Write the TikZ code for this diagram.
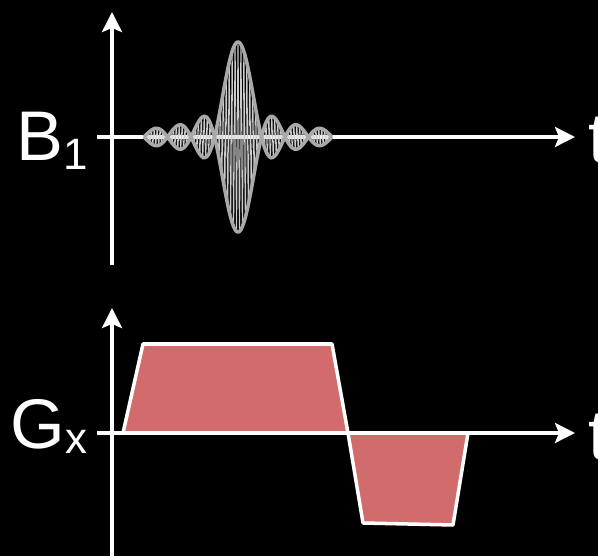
\documentclass[tikz,border=0pt]{standalone}
\usepackage{fontspec}
\setmainfont{Liberation Sans}
\usetikzlibrary{arrows.meta}

\definecolor{envgray}{RGB}{168,170,168}
\definecolor{carrgray}{RGB}{205,205,205}
\definecolor{lobered}{RGB}{210,107,107}

\begin{document}
\begin{tikzpicture}[
  >={Stealth[length=0.4cm, width=0.4cm, inset=0.08cm]},
  axis/.style={draw=white, line width=2pt},
  envelope/.style={draw=envgray, line width=2pt, line join=round},
  carrier/.style={draw=carrgray, line width=0.45pt},
  lobe/.style={fill=lobered, draw=white, line width=2pt, line join=round},
  sig/.style={font=\fontsize{40}{40}\selectfont, text=white, inner sep=0pt, anchor=base west},
  declare function={sincf(\u)=sin(180*\u)/(pi*\u);},
]

% Background and fixed frame
\fill[black] (0, 0) rectangle (11.96, 11.12);
\useasboundingbox (0, 0) rectangle (11.96, 11.12);

% === RF pulse (top) ===
\coordinate (b1top) at (2.24, 10.88);
\coordinate (b1bot) at (2.24, 5.82);
\coordinate (b1left) at (1.94, 8.38);
\coordinate (b1right) at (11.5, 8.38);

\draw[axis, ->] (b1bot) -- (b1top);
\draw[axis, ->] (b1left) -- (b1right);

% Carrier inside the sinc envelope
\draw[carrier] plot[domain=-4:4, samples=1200]
  ({4.76+0.47*\x}, {8.38+1.9*sincf(\x)*cos(360*8*\x)});

% Envelope, both signs
\draw[envelope] plot[domain=-4:4, samples=400, smooth]
  ({4.76+0.47*\x}, {8.38+1.9*sincf(\x)});
\draw[envelope] plot[domain=-4:4, samples=400, smooth]
  ({4.76+0.47*\x}, {8.38-1.9*sincf(\x)});

\node[sig] (b1lbl) at (0.32, 7.9) {B\raisebox{-0.12em}{\fontsize{25}{25}\selectfont 1}};
\node[sig] (b1t) at (11.76, 7.86) {t};

% === Gradient (bottom) ===
\coordinate (gxtop) at (2.24, 4.96);
\coordinate (gxbot) at (2.24, -0.1);
\coordinate (gxleft) at (1.94, 2.46);
\coordinate (gxright) at (11.5, 2.46);

% Positive lobe
\draw[lobe] (2.46, 2.46) -- (2.86, 4.24) -- (6.64, 4.24) -- (6.96, 2.46) -- cycle;
% Negative lobe
\draw[lobe] (6.96, 2.46) -- (7.26, 0.66) -- (9.06, 0.62) -- (9.36, 2.46) -- cycle;

\draw[axis, ->] (gxbot) -- (gxtop);
\draw[axis, ->] (gxleft) -- (gxright);

\node[sig] (gxlbl) at (0.2, 2.14) {G\raisebox{-0.06em}{\fontsize{25}{25}\selectfont x}};
\node[sig] (gxt) at (11.76, 1.92) {t};

\end{tikzpicture}
\end{document}
